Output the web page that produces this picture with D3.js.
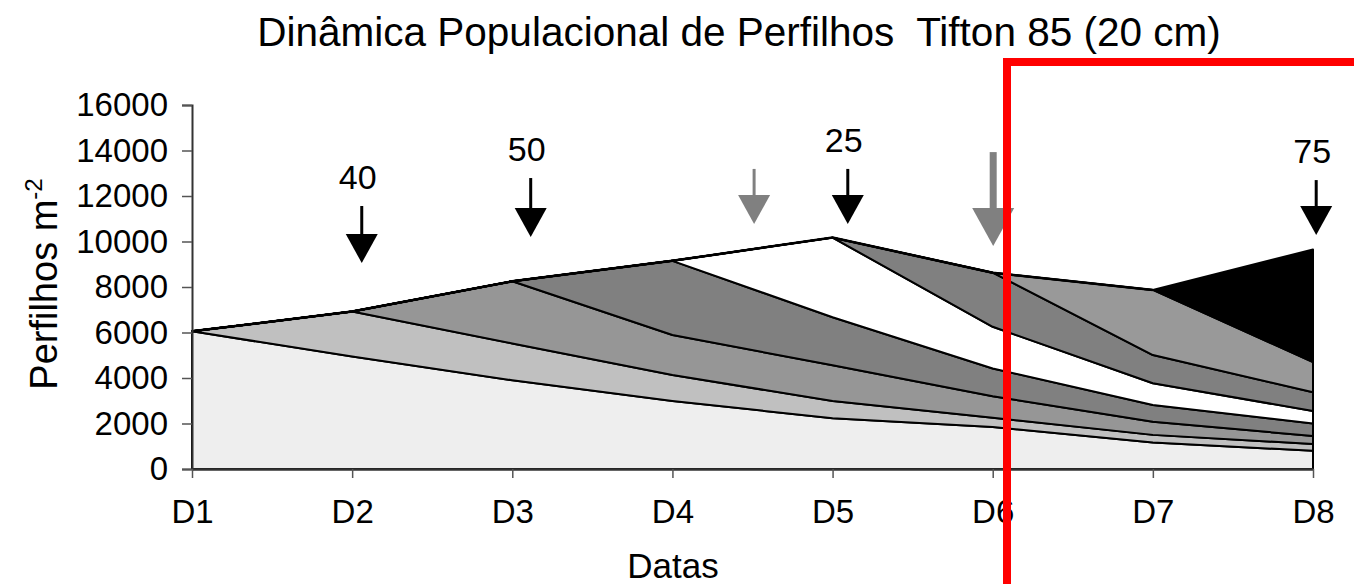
<!DOCTYPE html>
<html>
<head>
<meta charset="utf-8">
<script src="https://cdn.jsdelivr.net/npm/d3@7/dist/d3.min.js"></script>
<style>
  html, body { margin: 0; padding: 0; background: #fff; }
  svg { display: block; font-family: "Liberation Sans", Arial, sans-serif; }
</style>
</head>
<body>
<svg id="chart" width="1354" height="584"></svg>
<script>
// ---- Data ----
const dates = ["D1", "D2", "D3", "D4", "D5", "D6", "D7", "D8"];
const cohort1 = [6050, 4950, 3900, 2990, 2230, 1850, 1160, 800];
const cohort2 = [0, 1970, 1620, 1140, 760, 400, 340, 300];
const cohort3 = [0, 0, 2730, 1760, 1570, 950, 580, 350];
const cohort4 = [0, 0, 0, 3260, 2110, 1220, 730, 550];
const cohort5 = [0, 0, 0, 0, 3500, 1830, 960, 550];
const cohort6 = [0, 0, 0, 0, 0, 2380, 1240, 820];
const cohort7 = [0, 0, 0, 0, 0, 0, 2860, 1330];
const cohort8 = [0, 0, 0, 0, 0, 0, 0, 4950];
const cohortColors = ["#eeeeee", "#c0c0c0", "#969696", "#808080", "#ffffff", "#808080", "#999999", "#000000"];
const yTicks = [0, 2000, 4000, 6000, 8000, 10000, 12000, 14000, 16000];

// arrow annotations: position in date units (0 = D1), top and tip in data units
const arrowLabels = ["40", "50", "", "25", "", "75"];
const arrowPos = [1.06, 2.115, 3.51, 4.095, 5.003, 7.02];
const arrowTop = [11560, 12790, 13190, 13190, 13930, 12700];
const arrowTip = [9055, 10200, 10770, 10770, 9800, 10290];
const arrowColor = ["#000", "#000", "#808080", "#000", "#808080", "#000"];
const arrowBig = [false, false, false, false, true, false];

const chartTitle = "Dinâmica Populacional de Perfilhos  Tifton 85 (20 cm)";

// ---- Layout ----
const svg = d3.select("#chart");
const x0 = 192, x1 = 1313, yBase = 469, yTopPx = 105;
const x = d3.scalePoint().domain(dates).range([x0, x1]).padding(0);
const xLin = d3.scaleLinear().domain([0, dates.length - 1]).range([x0, x1]);
const y = d3.scaleLinear().domain([0, 16000]).range([yBase, yTopPx]);

const series = [cohort1, cohort2, cohort3, cohort4, cohort5, cohort6, cohort7, cohort8];
const table = dates.map((d, i) => {
  const row = { date: d };
  series.forEach((s, k) => row["c" + k] = s[i]);
  return row;
});
const keys = series.map((s, k) => "c" + k);
const stacked = d3.stack().keys(keys)(table);

const area = d3.area()
  .x(d => x(d.data.date))
  .y0(d => y(d[0]))
  .y1(d => y(d[1]));

svg.append("g").selectAll("path")
  .data(stacked)
  .join("path")
  .attr("d", area)
  .attr("fill", (d, i) => cohortColors[i])
  .attr("stroke", "#000")
  .attr("stroke-width", 2)
  .attr("stroke-linejoin", "round");

// top outline
const topLayer = stacked[stacked.length - 1];
svg.append("path")
  .attr("d", d3.line().x(d => x(d.data.date)).y(d => y(d[1]))(topLayer.slice(0, 7)))
  .attr("fill", "none").attr("stroke", "#000").attr("stroke-width", 2.5);

// ---- Axes ----
const yAxis = svg.append("g")
  .attr("transform", `translate(${x0},0)`)
  .call(d3.axisLeft(y).tickValues(yTicks).tickFormat(d3.format("d")).tickSize(10).tickPadding(14));
yAxis.select(".domain").attr("stroke", "#333").attr("stroke-width", 2);
yAxis.selectAll(".tick line").attr("stroke", "#555").attr("stroke-width", 1.5);
yAxis.selectAll(".tick text").attr("font-size", 33).attr("fill", "#000")
  .attr("font-family", "Liberation Sans, Arial, sans-serif");

const xAxis = svg.append("g")
  .attr("transform", `translate(0,${yBase})`)
  .call(d3.axisBottom(x).tickSize(9).tickPadding(22).tickSizeOuter(0));
xAxis.select(".domain").attr("stroke", "#333").attr("stroke-width", 2.5);
xAxis.selectAll(".tick line").attr("stroke", "#555").attr("stroke-width", 1.5);
xAxis.selectAll(".tick text").attr("font-size", 33).attr("fill", "#000")
  .attr("font-family", "Liberation Sans, Arial, sans-serif");

// ---- Arrows ----
arrowPos.forEach((p, i) => {
  const ax = xLin(p);
  const yt = y(arrowTop[i]);
  const yp = y(arrowTip[i]);
  const big = arrowBig[i];
  const headH = big ? 38 : 29;
  const headW = big ? 21 : 16;
  const g = svg.append("g");
  g.append("line")
    .attr("x1", ax).attr("x2", ax)
    .attr("y1", yt).attr("y2", yp - headH + 2)
    .attr("stroke", arrowColor[i]).attr("stroke-width", big ? 7 : 3);
  g.append("path")
    .attr("d", `M${ax - headW},${yp - headH} L${ax + headW},${yp - headH} L${ax},${yp} Z`)
    .attr("fill", arrowColor[i]);
  if (arrowLabels[i]) {
    g.append("text")
      .attr("x", ax - 4).attr("y", yt - 17)
      .attr("text-anchor", "middle")
      .attr("font-size", 34)
      .text(arrowLabels[i]);
  }
});

// ---- Titles ----
svg.append("text")
  .attr("x", 739).attr("y", 46)
  .attr("text-anchor", "middle")
  .attr("font-size", 40.5)
  .style("white-space", "pre")
  .attr("xml:space", "preserve")
  .text(chartTitle);

svg.append("text")
  .attr("x", 673).attr("y", 578)
  .attr("text-anchor", "middle")
  .attr("font-size", 35)
  .text("Datas");

const yl = svg.append("text")
  .attr("transform", "translate(57,284) rotate(-90)")
  .attr("text-anchor", "middle")
  .attr("font-size", 38);
yl.append("tspan").text("Perfilhos m");
yl.append("tspan").attr("font-size", 24).attr("dy", -15).text("-2");

// ---- Highlight box (as in reference) ----
svg.append("rect")
  .attr("x", 1007).attr("y", 62)
  .attr("width", 420).attr("height", 600)
  .attr("fill", "none")
  .attr("stroke", "#ff0000")
  .attr("stroke-width", 8);
</script>
</body>
</html>
